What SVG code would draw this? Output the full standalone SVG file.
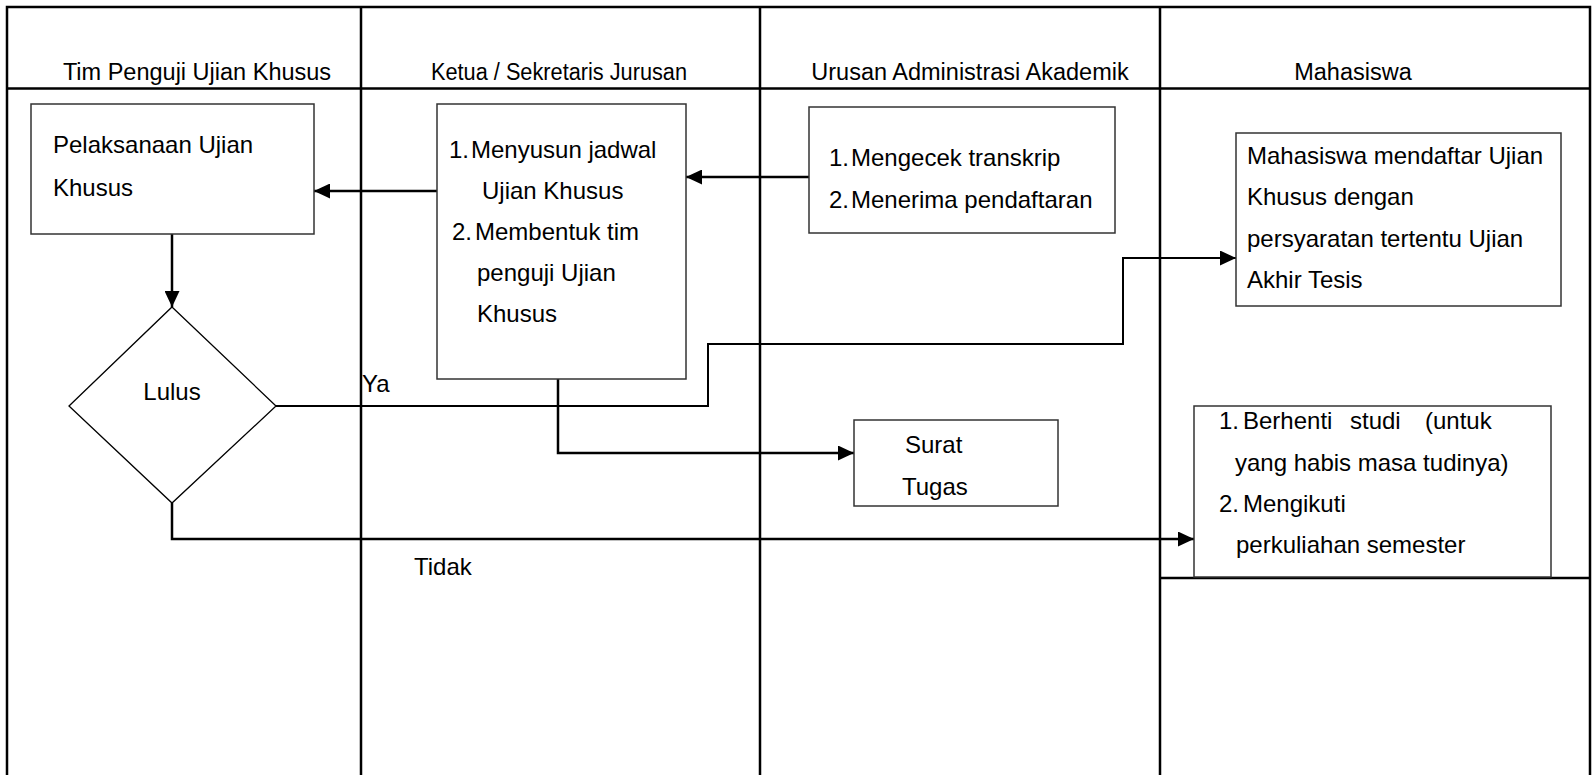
<svg xmlns="http://www.w3.org/2000/svg" width="1594" height="775" viewBox="0 0 1594 775">
<defs>
<marker id="ah" markerUnits="userSpaceOnUse" markerWidth="16" markerHeight="15" refX="16" refY="7.5" orient="auto"><path d="M0,0 L16,7.5 L0,15 Z" fill="#000"/></marker>
</defs>
<style>
text{font-family:"Liberation Sans",Arial,sans-serif;font-size:24px;fill:#000}
.hd{font-size:23.5px;text-anchor:middle}
.box{fill:#fff;stroke:#333;stroke-width:1.5}
.lane{stroke:#000;stroke-width:2.5;fill:none}
.con{stroke:#000;stroke-width:2.5;fill:none}
.thin{stroke:#000;stroke-width:2;fill:none}
</style>
<rect width="1594" height="775" fill="#fff"/>
<g id="lanes">
<path class="lane" d="M7,775 V7 H1590 V775 M7,88.5 H1590 M361,7 V775 M760,7 V775 M1160,7 V775 M1160,578 H1590"/>
<text class="hd" x="197" y="80">Tim Penguji Ujian Khusus</text>
<text class="hd" x="559" y="80" textLength="256" lengthAdjust="spacingAndGlyphs">Ketua / Sekretaris Jurusan</text>
<text class="hd" x="970" y="80">Urusan Administrasi Akademik</text>
<text class="hd" x="1353" y="80">Mahasiswa</text>
</g>
<g id="connectors">
<path class="con" d="M172,234 V307" marker-end="url(#ah)"/>
<path class="con" d="M446,191 H314" marker-end="url(#ah)"/>
<path class="con" d="M809,177 H686" marker-end="url(#ah)"/>
<path class="con" d="M558,379 V453 H854" marker-end="url(#ah)"/>
<path class="thin" d="M276,406 H708 V344 H1123 V258 H1236" marker-end="url(#ah)"/>
<path class="con" d="M172,503 V539 H1194" marker-end="url(#ah)"/>
<text x="362" y="392">Ya</text>
<text x="414" y="575">Tidak</text>
</g>
<g id="pelaksanaan">
<rect class="box" x="31" y="104" width="283" height="130"/>
<text x="53" y="153">Pelaksanaan Ujian</text>
<text x="53" y="196">Khusus</text>
</g>
<g id="ketua">
<rect class="box" x="437" y="104" width="249" height="275"/>
<text x="449" y="158">1.<tspan x="471">Menyusun jadwal</tspan></text>
<text x="482" y="199">Ujian Khusus</text>
<text x="452" y="240">2.<tspan x="475">Membentuk tim</tspan></text>
<text x="477" y="281">penguji Ujian</text>
<text x="477" y="322">Khusus</text>
</g>
<g id="urusan">
<rect class="box" x="809" y="107" width="306" height="126"/>
<text x="829" y="166">1.<tspan x="851">Mengecek transkrip</tspan></text>
<text x="829" y="208">2.<tspan x="851">Menerima pendaftaran</tspan></text>
</g>
<g id="mahasiswa">
<rect class="box" x="1236" y="133" width="325" height="173"/>
<text x="1247" y="164">Mahasiswa mendaftar Ujian</text>
<text x="1247" y="205">Khusus dengan</text>
<text x="1247" y="247">persyaratan tertentu Ujian</text>
<text x="1247" y="288">Akhir Tesis</text>
</g>
<g id="surat">
<rect class="box" x="854" y="420" width="204" height="86"/>
<text x="905" y="453">Surat</text>
<text x="902" y="495">Tugas</text>
</g>
<g id="berhenti">
<rect class="box" x="1194" y="406" width="357" height="171"/>
<text x="1219" y="429">1.<tspan x="1243">Berhenti</tspan><tspan x="1350">studi</tspan><tspan x="1425">(untuk</tspan></text>
<text x="1235" y="471">yang habis masa tudinya)</text>
<text x="1219" y="512">2.<tspan x="1243">Mengikuti</tspan></text>
<text x="1236" y="553">perkuliahan semester</text>
</g>
<g id="lulus">
<polygon points="172,307 276,406 172,503 69,406" fill="#fff" stroke="#000" stroke-width="1.3"/>
<text x="172" y="400" text-anchor="middle">Lulus</text>
</g>
</svg>
